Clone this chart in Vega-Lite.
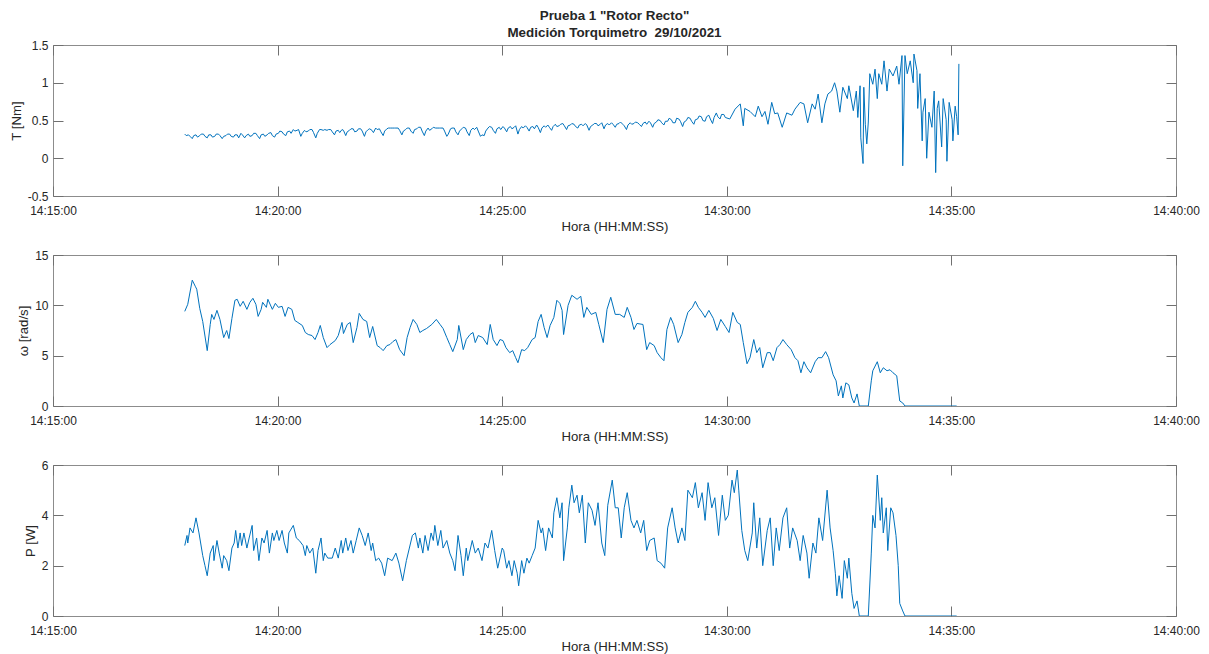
{
"$schema": "https://vega.github.io/schema/vega-lite/v6.json",
"autosize": {"type": "pad"},
"padding": {"left": 8, "top": 9, "right": 5, "bottom": 5},
"title": {"text": ["Prueba 1 \"Rotor Recto\"", "Medición Torquimetro\u00a0 29/10/2021"], "anchor": "middle", "frame": "group", "fontSize": 13.4, "fontWeight": "bold", "font": "Liberation Sans", "color": "#262626", "lineHeight": 17, "offset": -1},
"datasets": {
"T": [
{"s":176,"v":0.32},{"s":178,"v":0.30},{"s":181,"v":0.31},{"s":183,"v":0.29},{"s":186,"v":0.26},{"s":188,"v":0.30},{"s":191,"v":0.31},{"s":193,"v":0.28},{"s":196,"v":0.30},{"s":198,"v":0.32},{"s":201,"v":0.32},{"s":203,"v":0.29},{"s":206,"v":0.27},{"s":208,"v":0.31},{"s":211,"v":0.31},{"s":213,"v":0.28},{"s":216,"v":0.29},{"s":218,"v":0.32},{"s":221,"v":0.32},{"s":223,"v":0.30},{"s":226,"v":0.26},{"s":228,"v":0.29},{"s":231,"v":0.30},{"s":233,"v":0.32},{"s":236,"v":0.32},{"s":238,"v":0.29},{"s":241,"v":0.28},{"s":243,"v":0.31},{"s":246,"v":0.31},{"s":248,"v":0.27},{"s":251,"v":0.33},{"s":253,"v":0.31},{"s":256,"v":0.27},{"s":258,"v":0.30},{"s":261,"v":0.32},{"s":263,"v":0.29},{"s":266,"v":0.30},{"s":268,"v":0.33},{"s":271,"v":0.33},{"s":273,"v":0.30},{"s":276,"v":0.26},{"s":278,"v":0.31},{"s":281,"v":0.32},{"s":283,"v":0.29},{"s":286,"v":0.31},{"s":288,"v":0.33},{"s":291,"v":0.34},{"s":293,"v":0.30},{"s":296,"v":0.28},{"s":298,"v":0.32},
{"s":301,"v":0.33},{"s":303,"v":0.36},{"s":306,"v":0.35},{"s":308,"v":0.32},{"s":311,"v":0.30},{"s":313,"v":0.35},{"s":316,"v":0.36},{"s":318,"v":0.33},{"s":321,"v":0.38},{"s":323,"v":0.36},{"s":326,"v":0.37},{"s":328,"v":0.38},{"s":331,"v":0.29},{"s":333,"v":0.33},{"s":336,"v":0.37},{"s":338,"v":0.35},{"s":341,"v":0.36},{"s":343,"v":0.38},{"s":346,"v":0.38},{"s":348,"v":0.34},{"s":351,"v":0.27},{"s":353,"v":0.33},{"s":356,"v":0.38},{"s":358,"v":0.38},{"s":361,"v":0.37},{"s":363,"v":0.38},{"s":366,"v":0.37},{"s":368,"v":0.38},{"s":371,"v":0.38},{"s":373,"v":0.35},{"s":376,"v":0.31},{"s":378,"v":0.36},{"s":381,"v":0.37},{"s":383,"v":0.34},{"s":386,"v":0.38},{"s":388,"v":0.37},{"s":391,"v":0.30},{"s":393,"v":0.35},{"s":396,"v":0.37},{"s":398,"v":0.39},{"s":401,"v":0.39},{"s":403,"v":0.35},{"s":406,"v":0.36},{"s":408,"v":0.39},{"s":411,"v":0.39},{"s":413,"v":0.36},{"s":416,"v":0.29},{"s":418,"v":0.35},
{"s":421,"v":0.38},{"s":423,"v":0.39},{"s":426,"v":0.37},{"s":428,"v":0.34},{"s":431,"v":0.40},{"s":433,"v":0.38},{"s":436,"v":0.39},{"s":438,"v":0.35},{"s":441,"v":0.30},{"s":443,"v":0.36},{"s":446,"v":0.39},{"s":448,"v":0.40},{"s":451,"v":0.40},{"s":453,"v":0.40},{"s":456,"v":0.40},{"s":458,"v":0.40},{"s":461,"v":0.40},{"s":463,"v":0.37},{"s":466,"v":0.31},{"s":468,"v":0.36},{"s":471,"v":0.38},{"s":473,"v":0.40},{"s":476,"v":0.40},{"s":478,"v":0.36},{"s":481,"v":0.33},{"s":483,"v":0.38},{"s":486,"v":0.39},{"s":488,"v":0.41},{"s":491,"v":0.41},{"s":493,"v":0.36},{"s":496,"v":0.30},{"s":498,"v":0.36},{"s":501,"v":0.40},{"s":503,"v":0.37},{"s":506,"v":0.39},{"s":508,"v":0.41},{"s":511,"v":0.40},{"s":513,"v":0.40},{"s":516,"v":0.40},{"s":518,"v":0.40},{"s":521,"v":0.40},{"s":523,"v":0.36},{"s":526,"v":0.29},{"s":528,"v":0.32},{"s":531,"v":0.39},{"s":533,"v":0.40},{"s":536,"v":0.40},{"s":538,"v":0.35},
{"s":541,"v":0.31},{"s":543,"v":0.36},{"s":546,"v":0.39},{"s":548,"v":0.41},{"s":551,"v":0.40},{"s":553,"v":0.35},{"s":556,"v":0.30},{"s":558,"v":0.37},{"s":561,"v":0.40},{"s":563,"v":0.38},{"s":566,"v":0.41},{"s":568,"v":0.36},{"s":571,"v":0.29},{"s":573,"v":0.31},{"s":576,"v":0.30},{"s":578,"v":0.36},{"s":581,"v":0.40},{"s":583,"v":0.42},{"s":586,"v":0.41},{"s":588,"v":0.37},{"s":591,"v":0.33},{"s":593,"v":0.39},{"s":596,"v":0.41},{"s":598,"v":0.38},{"s":601,"v":0.42},{"s":603,"v":0.40},{"s":606,"v":0.35},{"s":608,"v":0.40},{"s":611,"v":0.42},{"s":613,"v":0.39},{"s":616,"v":0.41},{"s":618,"v":0.43},{"s":621,"v":0.32},{"s":623,"v":0.38},{"s":626,"v":0.42},{"s":628,"v":0.40},{"s":631,"v":0.43},{"s":633,"v":0.41},{"s":636,"v":0.36},{"s":638,"v":0.41},{"s":641,"v":0.42},{"s":643,"v":0.39},{"s":646,"v":0.44},{"s":648,"v":0.41},{"s":651,"v":0.34},{"s":653,"v":0.40},{"s":656,"v":0.43},{"s":658,"v":0.41},
{"s":661,"v":0.44},{"s":663,"v":0.41},{"s":666,"v":0.37},{"s":668,"v":0.42},{"s":671,"v":0.45},{"s":673,"v":0.42},{"s":676,"v":0.43},{"s":678,"v":0.45},{"s":681,"v":0.46},{"s":683,"v":0.43},{"s":686,"v":0.38},{"s":688,"v":0.43},{"s":691,"v":0.44},{"s":693,"v":0.46},{"s":696,"v":0.45},{"s":698,"v":0.42},{"s":701,"v":0.40},{"s":703,"v":0.44},{"s":706,"v":0.45},{"s":708,"v":0.43},{"s":711,"v":0.46},{"s":713,"v":0.44},{"s":716,"v":0.37},{"s":718,"v":0.42},{"s":721,"v":0.44},{"s":723,"v":0.46},{"s":726,"v":0.46},{"s":728,"v":0.43},{"s":731,"v":0.45},{"s":733,"v":0.47},{"s":736,"v":0.39},{"s":738,"v":0.44},{"s":741,"v":0.46},{"s":743,"v":0.44},{"s":746,"v":0.47},{"s":748,"v":0.45},{"s":751,"v":0.41},{"s":753,"v":0.45},{"s":756,"v":0.46},{"s":758,"v":0.48},{"s":761,"v":0.45},{"s":763,"v":0.43},{"s":766,"v":0.38},{"s":768,"v":0.44},{"s":771,"v":0.47},{"s":773,"v":0.45},{"s":776,"v":0.46},{"s":778,"v":0.48},
{"s":781,"v":0.47},{"s":783,"v":0.45},{"s":786,"v":0.42},{"s":788,"v":0.46},{"s":791,"v":0.48},{"s":793,"v":0.45},{"s":796,"v":0.49},{"s":798,"v":0.47},{"s":801,"v":0.41},{"s":803,"v":0.46},{"s":806,"v":0.48},{"s":808,"v":0.51},{"s":811,"v":0.50},{"s":813,"v":0.47},{"s":816,"v":0.44},{"s":818,"v":0.49},{"s":821,"v":0.49},{"s":823,"v":0.53},{"s":826,"v":0.51},{"s":828,"v":0.47},{"s":831,"v":0.47},{"s":833,"v":0.53},{"s":836,"v":0.52},{"s":838,"v":0.49},{"s":841,"v":0.42},{"s":843,"v":0.48},{"s":846,"v":0.50},{"s":848,"v":0.54},{"s":851,"v":0.53},{"s":853,"v":0.49},{"s":856,"v":0.45},{"s":858,"v":0.51},{"s":861,"v":0.52},{"s":863,"v":0.56},{"s":866,"v":0.55},{"s":868,"v":0.50},{"s":871,"v":0.49},{"s":873,"v":0.55},{"s":876,"v":0.57},{"s":878,"v":0.52},{"s":881,"v":0.46},{"s":883,"v":0.54},{"s":886,"v":0.60},{"s":888,"v":0.55},{"s":891,"v":0.52},{"s":893,"v":0.58},{"s":896,"v":0.58},{"s":898,"v":0.54},
{"s":904,"v":0.52},{"s":911,"v":0.65},{"s":918,"v":0.72},{"s":922,"v":0.43},{"s":924,"v":0.66},{"s":931,"v":0.62},{"s":938,"v":0.55},{"s":942,"v":0.69},{"s":947,"v":0.55},{"s":951,"v":0.62},{"s":955,"v":0.45},{"s":960,"v":0.74},{"s":964,"v":0.59},{"s":968,"v":0.60},{"s":974,"v":0.41},{"s":980,"v":0.60},{"s":987,"v":0.57},{"s":991,"v":0.65},{"s":998,"v":0.74},{"s":1003,"v":0.72},{"s":1008,"v":0.47},{"s":1014,"v":0.72},{"s":1018,"v":0.65},{"s":1022,"v":0.85},{"s":1027,"v":0.47},{"s":1031,"v":0.72},{"s":1035,"v":0.85},{"s":1040,"v":0.89},{"s":1044,"v":1.0},{"s":1047,"v":0.89},{"s":1051,"v":0.61},{"s":1055,"v":0.94},{"s":1061,"v":0.79},{"s":1063,"v":0.96},{"s":1069,"v":0.63},{"s":1073,"v":0.89},{"s":1075,"v":0.54},{"s":1078,"v":0.96},{"s":1079,"v":0.27},{"s":1082,"v":-0.07},{"s":1083,"v":0.94},{"s":1085,"v":0.45},{"s":1087,"v":0.19},{"s":1089,"v":0.48},{"s":1091,"v":1.12},{"s":1095,"v":0.98},{"s":1098,"v":1.18},{"s":1101,"v":0.79},{"s":1103,"v":1.12},{"s":1107,"v":0.98},{"s":1110,"v":1.29},{"s":1114,"v":0.89},{"s":1117,"v":1.18},{"s":1122,"v":1.09},{"s":1127,"v":1.22},{"s":1130,"v":0.98},{"s":1134,"v":1.36},{"s":1135,"v":-0.10},{"s":1138,"v":1.36},{"s":1141,"v":1.12},{"s":1145,"v":1.29},{"s":1149,"v":1.0},{"s":1150,"v":1.38},{"s":1154,"v":1.16},{"s":1155,"v":0.66},{"s":1158,"v":1.12},{"s":1161,"v":0.23},{"s":1162,"v":0.61},{"s":1165,"v":0.79},{"s":1167,"v":0.0},{"s":1170,"v":0.61},{"s":1174,"v":0.41},{"s":1177,"v":0.89},{"s":1179,"v":-0.19},{"s":1181,"v":0.66},{"s":1183,"v":0.76},{"s":1187,"v":0.15},{"s":1189,"v":0.79},{"s":1193,"v":0.51},{"s":1194,"v":-0.04},{"s":1197,"v":0.74},{"s":1201,"v":0.51},{"s":1202,"v":0.23},{"s":1205,"v":0.69},{"s":1207,"v":0.55},{"s":1209,"v":0.31},{"s":1210,"v":1.25}
],
"w": [
{"s":176,"v":9.4},{"s":180,"v":10.1},{"s":186,"v":12.5},{"s":190,"v":11.9},{"s":192,"v":11.6},{"s":196,"v":9.7},{"s":200,"v":8.4},{"s":206,"v":5.5},{"s":210,"v":8.1},{"s":212,"v":9.1},{"s":215,"v":8.6},{"s":219,"v":9.5},{"s":223,"v":8.6},{"s":228,"v":6.8},{"s":232,"v":7.5},{"s":235,"v":6.7},{"s":239,"v":8.7},{"s":243,"v":10.5},{"s":246,"v":10.6},{"s":250,"v":9.9},{"s":254,"v":10.4},{"s":259,"v":9.6},{"s":263,"v":10.3},{"s":267,"v":10.7},{"s":271,"v":10.1},{"s":274,"v":8.9},{"s":278,"v":9.6},{"s":280,"v":10.3},{"s":285,"v":9.8},{"s":287,"v":10.6},{"s":293,"v":9.6},{"s":297,"v":10.2},{"s":301,"v":9.8},{"s":306,"v":9.9},{"s":310,"v":8.9},{"s":314,"v":9.8},{"s":319,"v":9.6},{"s":323,"v":8.5},{"s":327,"v":8.3},{"s":333,"v":8.0},{"s":337,"v":7.3},{"s":341,"v":7.1},{"s":346,"v":7.0},{"s":350,"v":6.6},{"s":354,"v":7.3},{"s":357,"v":8.0},{"s":361,"v":6.8},{"s":366,"v":5.8},{"s":370,"v":6.1},{"s":377,"v":6.5},{"s":381,"v":7.0},{"s":386,"v":8.3},{"s":388,"v":7.2},{"s":393,"v":8.1},{"s":397,"v":8.3},{"s":401,"v":6.3},{"s":406,"v":7.8},{"s":409,"v":9.2},{"s":414,"v":8.6},{"s":419,"v":8.4},{"s":423,"v":6.8},{"s":427,"v":7.9},{"s":433,"v":6.0},{"s":437,"v":5.8},{"s":441,"v":5.5},{"s":446,"v":6.0},{"s":450,"v":6.1},{"s":454,"v":6.4},{"s":458,"v":6.6},{"s":463,"v":5.6},{"s":469,"v":5.0},{"s":473,"v":6.8},{"s":477,"v":7.8},{"s":481,"v":8.6},{"s":486,"v":8.1},{"s":490,"v":7.3},{"s":494,"v":7.5},{"s":499,"v":7.7},{"s":506,"v":8.1},{"s":512,"v":8.6},{"s":517,"v":8.1},{"s":521,"v":7.7},{"s":526,"v":6.8},{"s":530,"v":6.1},{"s":534,"v":5.4},{"s":540,"v":6.6},{"s":542,"v":8.0},{"s":548,"v":5.6},{"s":552,"v":6.6},{"s":557,"v":7.1},{"s":561,"v":7.3},{"s":564,"v":6.3},{"s":568,"v":7.0},{"s":574,"v":6.8},{"s":580,"v":6.1},{"s":584,"v":8.1},{"s":588,"v":6.6},{"s":593,"v":6.0},{"s":597,"v":6.6},{"s":601,"v":6.5},{"s":605,"v":5.8},{"s":610,"v":5.3},{"s":614,"v":5.5},{"s":618,"v":4.8},{"s":621,"v":4.3},{"s":626,"v":5.6},{"s":630,"v":5.5},{"s":634,"v":5.8},{"s":640,"v":6.6},{"s":644,"v":6.8},{"s":648,"v":8.4},{"s":652,"v":9.1},{"s":656,"v":7.8},{"s":660,"v":6.8},{"s":664,"v":8.0},{"s":669,"v":8.8},{"s":673,"v":10.5},{"s":677,"v":10.2},{"s":680,"v":9.5},{"s":682,"v":7.1},{"s":688,"v":10.0},{"s":693,"v":11.0},{"s":700,"v":10.6},{"s":705,"v":10.9},{"s":709,"v":8.8},{"s":713,"v":9.8},{"s":719,"v":9.1},{"s":725,"v":9.3},{"s":729,"v":8.1},{"s":735,"v":6.3},{"s":740,"v":9.6},{"s":745,"v":10.8},{"s":751,"v":9.1},{"s":757,"v":9.1},{"s":763,"v":8.8},{"s":767,"v":9.8},{"s":772,"v":8.8},{"s":776,"v":7.6},{"s":780,"v":8.2},{"s":788,"v":8.1},{"s":793,"v":5.6},{"s":797,"v":6.3},{"s":803,"v":6.0},{"s":807,"v":5.3},{"s":812,"v":4.8},{"s":816,"v":4.5},{"s":820,"v":7.6},{"s":825,"v":8.8},{"s":829,"v":8.1},{"s":835,"v":6.3},{"s":840,"v":7.1},{"s":844,"v":8.3},{"s":848,"v":9.3},{"s":854,"v":9.8},{"s":858,"v":10.4},{"s":862,"v":9.8},{"s":867,"v":9.3},{"s":871,"v":8.8},{"s":876,"v":9.5},{"s":882,"v":8.7},{"s":887,"v":7.5},{"s":892,"v":8.6},{"s":898,"v":7.9},{"s":903,"v":7.3},{"s":908,"v":9.3},{"s":914,"v":8.3},{"s":918,"v":8.1},{"s":922,"v":6.3},{"s":927,"v":4.2},{"s":931,"v":4.8},{"s":936,"v":6.6},{"s":940,"v":5.3},{"s":944,"v":5.8},{"s":948,"v":3.8},{"s":954,"v":5.3},{"s":958,"v":5.3},{"s":962,"v":4.5},{"s":967,"v":5.8},{"s":971,"v":6.1},{"s":975,"v":6.6},{"s":980,"v":6.1},{"s":986,"v":5.6},{"s":991,"v":4.8},{"s":995,"v":4.5},{"s":999,"v":3.3},{"s":1003,"v":4.4},{"s":1007,"v":3.8},{"s":1012,"v":3.3},{"s":1018,"v":4.4},{"s":1022,"v":4.8},{"s":1027,"v":4.8},{"s":1032,"v":5.4},{"s":1036,"v":4.8},{"s":1042,"v":3.1},{"s":1046,"v":2.5},{"s":1049,"v":1.0},{"s":1053,"v":2.0},{"s":1055,"v":0.8},{"s":1059,"v":2.3},{"s":1063,"v":2.1},{"s":1067,"v":0.8},{"s":1070,"v":0.3},{"s":1074,"v":1.2},{"s":1077,"v":0},{"s":1089,"v":0},{"s":1093,"v":2.5},{"s":1095,"v":3.5},{"s":1101,"v":4.4},{"s":1105,"v":3.3},{"s":1109,"v":3.8},{"s":1114,"v":3.5},{"s":1118,"v":3.6},{"s":1122,"v":3.3},{"s":1127,"v":3.0},{"s":1131,"v":0.5},{"s":1135,"v":0.3},{"s":1138,"v":0},{"s":1207,"v":0}
],
"P": [
{"s":176,"v":2.8},{"s":179,"v":3.2},{"s":180,"v":2.9},{"s":183,"v":3.5},{"s":187,"v":3.3},{"s":191,"v":3.9},{"s":195,"v":3.3},{"s":200,"v":2.4},{"s":203,"v":2.0},{"s":206,"v":1.6},{"s":210,"v":2.5},{"s":214,"v":2.8},{"s":215,"v":2.2},{"s":219,"v":3.0},{"s":222,"v":2.5},{"s":226,"v":1.9},{"s":228,"v":2.4},{"s":232,"v":2.2},{"s":235,"v":1.8},{"s":239,"v":2.7},{"s":242,"v":2.9},{"s":244,"v":3.4},{"s":247,"v":2.7},{"s":250,"v":3.3},{"s":252,"v":2.8},{"s":255,"v":3.3},{"s":259,"v":2.7},{"s":262,"v":3.1},{"s":266,"v":3.6},{"s":268,"v":2.6},{"s":272,"v":3.1},{"s":275,"v":2.2},{"s":279,"v":3.1},{"s":282,"v":2.9},{"s":286,"v":3.4},{"s":289,"v":2.5},{"s":293,"v":3.3},{"s":295,"v":3.0},{"s":299,"v":3.4},{"s":302,"v":3.0},{"s":306,"v":3.4},{"s":309,"v":2.9},{"s":313,"v":2.5},{"s":315,"v":3.3},{"s":321,"v":3.6},{"s":325,"v":3.1},{"s":329,"v":3.0},{"s":334,"v":2.8},{"s":337,"v":2.4},{"s":339,"v":2.8},{"s":343,"v":2.5},{"s":347,"v":2.7},{"s":351,"v":1.7},{"s":354,"v":2.6},{"s":358,"v":3.1},{"s":361,"v":2.2},{"s":363,"v":2.5},{"s":367,"v":2.3},{"s":373,"v":2.3},{"s":377,"v":2.7},{"s":381,"v":2.3},{"s":385,"v":3.0},{"s":387,"v":2.5},{"s":391,"v":3.1},{"s":394,"v":2.6},{"s":398,"v":3.0},{"s":401,"v":2.5},{"s":405,"v":3.0},{"s":409,"v":3.5},{"s":413,"v":3.2},{"s":417,"v":2.8},{"s":421,"v":3.3},{"s":425,"v":2.6},{"s":427,"v":2.9},{"s":431,"v":2.2},{"s":435,"v":2.3},{"s":439,"v":2.1},{"s":443,"v":1.6},{"s":447,"v":2.3},{"s":453,"v":2.2},{"s":458,"v":2.5},{"s":462,"v":2.1},{"s":467,"v":1.4},{"s":472,"v":2.2},{"s":476,"v":2.7},{"s":480,"v":3.2},{"s":484,"v":3.3},{"s":488,"v":2.7},{"s":490,"v":3.1},{"s":494,"v":2.5},{"s":497,"v":3.2},{"s":501,"v":2.6},{"s":505,"v":3.3},{"s":508,"v":3.0},{"s":510,"v":3.6},{"s":514,"v":2.8},{"s":518,"v":3.4},{"s":521,"v":2.7},{"s":526,"v":3.0},{"s":530,"v":2.5},{"s":534,"v":2.2},{"s":537,"v":1.8},{"s":541,"v":3.2},{"s":545,"v":2.4},{"s":548,"v":1.6},{"s":552,"v":2.7},{"s":554,"v":2.2},{"s":560,"v":3.0},{"s":564,"v":2.5},{"s":568,"v":2.7},{"s":573,"v":2.2},{"s":577,"v":2.9},{"s":581,"v":2.7},{"s":586,"v":3.4},{"s":590,"v":2.6},{"s":594,"v":1.9},{"s":600,"v":2.7},{"s":602,"v":2.6},{"s":606,"v":1.9},{"s":609,"v":2.2},{"s":613,"v":1.6},{"s":616,"v":2.2},{"s":620,"v":1.7},{"s":622,"v":1.2},{"s":626,"v":2.2},{"s":629,"v":1.7},{"s":633,"v":2.3},{"s":636,"v":2.1},{"s":640,"v":2.4},{"s":644,"v":2.7},{"s":648,"v":3.8},{"s":652,"v":3.3},{"s":654,"v":3.5},{"s":658,"v":2.6},{"s":662,"v":3.5},{"s":667,"v":3.1},{"s":669,"v":4.1},{"s":673,"v":4.7},{"s":677,"v":3.9},{"s":680,"v":4.5},{"s":682,"v":2.2},{"s":687,"v":3.5},{"s":689,"v":4.3},{"s":693,"v":5.2},{"s":696,"v":4.5},{"s":700,"v":4.8},{"s":703,"v":4.1},{"s":707,"v":4.8},{"s":711,"v":2.9},{"s":715,"v":4.5},{"s":720,"v":4.2},{"s":724,"v":3.6},{"s":728,"v":4.5},{"s":733,"v":2.9},{"s":737,"v":2.4},{"s":741,"v":4.4},{"s":747,"v":5.4},{"s":751,"v":4.3},{"s":755,"v":4.3},{"s":759,"v":3.1},{"s":763,"v":4.3},{"s":767,"v":4.9},{"s":772,"v":3.8},{"s":776,"v":3.5},{"s":780,"v":3.8},{"s":785,"v":3.3},{"s":789,"v":3.8},{"s":793,"v":2.6},{"s":797,"v":3.0},{"s":803,"v":3.1},{"s":807,"v":2.2},{"s":812,"v":2.1},{"s":817,"v":1.9},{"s":821,"v":3.5},{"s":827,"v":4.3},{"s":831,"v":3.5},{"s":835,"v":2.9},{"s":840,"v":3.5},{"s":844,"v":3.0},{"s":848,"v":5.0},{"s":854,"v":4.7},{"s":858,"v":5.3},{"s":862,"v":4.3},{"s":867,"v":4.9},{"s":871,"v":3.8},{"s":875,"v":5.3},{"s":880,"v":4.3},{"s":884,"v":4.7},{"s":889,"v":3.2},{"s":894,"v":4.8},{"s":898,"v":3.8},{"s":902,"v":4.0},{"s":907,"v":5.4},{"s":910,"v":4.9},{"s":914,"v":5.8},{"s":916,"v":5.0},{"s":920,"v":3.4},{"s":924,"v":2.6},{"s":928,"v":2.2},{"s":934,"v":3.3},{"s":936,"v":4.5},{"s":940,"v":2.7},{"s":944,"v":3.9},{"s":948,"v":2.0},{"s":954,"v":3.4},{"s":958,"v":3.9},{"s":962,"v":2.0},{"s":966,"v":3.5},{"s":970,"v":2.6},{"s":975,"v":3.9},{"s":980,"v":4.3},{"s":984,"v":2.7},{"s":988,"v":3.5},{"s":994,"v":3.0},{"s":998,"v":2.2},{"s":1002,"v":3.2},{"s":1007,"v":2.5},{"s":1010,"v":1.5},{"s":1015,"v":2.9},{"s":1019,"v":2.5},{"s":1023,"v":3.9},{"s":1028,"v":3.0},{"s":1034,"v":5.0},{"s":1038,"v":3.5},{"s":1042,"v":2.6},{"s":1045,"v":1.7},{"s":1047,"v":0.8},{"s":1050,"v":1.6},{"s":1054,"v":0.7},{"s":1057,"v":2.2},{"s":1061,"v":1.5},{"s":1063,"v":2.3},{"s":1067,"v":0.9},{"s":1070,"v":0.3},{"s":1074,"v":0.6},{"s":1077,"v":0},{"s":1089,"v":0},{"s":1093,"v":2.5},{"s":1095,"v":4.0},{"s":1098,"v":3.5},{"s":1101,"v":5.6},{"s":1105,"v":3.8},{"s":1107,"v":4.7},{"s":1109,"v":3.3},{"s":1113,"v":4.3},{"s":1115,"v":2.6},{"s":1119,"v":4.3},{"s":1122,"v":4.1},{"s":1126,"v":3.2},{"s":1129,"v":2.0},{"s":1131,"v":0.5},{"s":1135,"v":0.2},{"s":1138,"v":0},{"s":1207,"v":0}
]
},
"spacing": 59,
"bounds": "flush",
"vconcat": [
{
"width": 1123, "height": 151,
"data": {"name": "T"},
"layer": [
{"mark": {"type": "line", "color": "#0072BD", "strokeWidth": 1, "clip": true},
 "encoding": {
  "x": {"field": "s", "type": "quantitative", "scale": {"domain": [0, 1500], "nice": false, "zero": false}, "axis": {"values": [0, 300, 600, 900, 1200, 1500], "labelExpr": "timeFormat(datetime(2021, 9, 29, 14, 15, datum.value), '%H:%M:%S')", "title": "Hora (HH:MM:SS)"}},
  "y": {"field": "v", "type": "quantitative", "scale": {"domain": [-0.5, 1.5], "nice": false, "zero": false}, "axis": {"values": [-0.5, 0, 0.5, 1, 1.5], "labelExpr": "'' + datum.value", "title": "T [Nm]"}}
 }},
{"mark": {"type": "line", "opacity": 0},
 "encoding": {
  "x": {"field": "s", "type": "quantitative", "scale": {"domain": [0, 1500], "nice": false, "zero": false}, "axis": {"orient": "top", "values": [0, 300, 600, 900, 1200, 1500], "labels": false, "title": null}},
  "y": {"field": "v", "type": "quantitative", "scale": {"domain": [-0.5, 1.5], "nice": false, "zero": false}, "axis": {"orient": "right", "values": [-0.5, 0, 0.5, 1, 1.5], "labels": false, "title": null}}
 }}
],
"resolve": {"axis": {"x": "independent", "y": "independent"}}
},
{
"width": 1123, "height": 151,
"data": {"name": "w"},
"layer": [
{"mark": {"type": "line", "color": "#0072BD", "strokeWidth": 1, "clip": true},
 "encoding": {
  "x": {"field": "s", "type": "quantitative", "scale": {"domain": [0, 1500], "nice": false, "zero": false}, "axis": {"values": [0, 300, 600, 900, 1200, 1500], "labelExpr": "timeFormat(datetime(2021, 9, 29, 14, 15, datum.value), '%H:%M:%S')", "title": "Hora (HH:MM:SS)"}},
  "y": {"field": "v", "type": "quantitative", "scale": {"domain": [0, 15], "nice": false, "zero": false}, "axis": {"values": [0, 5, 10, 15], "labelExpr": "'' + datum.value", "title": "ω [rad/s]"}}
 }},
{"mark": {"type": "line", "opacity": 0},
 "encoding": {
  "x": {"field": "s", "type": "quantitative", "scale": {"domain": [0, 1500], "nice": false, "zero": false}, "axis": {"orient": "top", "values": [0, 300, 600, 900, 1200, 1500], "labels": false, "title": null}},
  "y": {"field": "v", "type": "quantitative", "scale": {"domain": [0, 15], "nice": false, "zero": false}, "axis": {"orient": "right", "values": [0, 5, 10, 15], "labels": false, "title": null}}
 }}
],
"resolve": {"axis": {"x": "independent", "y": "independent"}}
},
{
"width": 1123, "height": 151,
"data": {"name": "P"},
"layer": [
{"mark": {"type": "line", "color": "#0072BD", "strokeWidth": 1, "clip": true},
 "encoding": {
  "x": {"field": "s", "type": "quantitative", "scale": {"domain": [0, 1500], "nice": false, "zero": false}, "axis": {"values": [0, 300, 600, 900, 1200, 1500], "labelExpr": "timeFormat(datetime(2021, 9, 29, 14, 15, datum.value), '%H:%M:%S')", "title": "Hora (HH:MM:SS)"}},
  "y": {"field": "v", "type": "quantitative", "scale": {"domain": [0, 6], "nice": false, "zero": false}, "axis": {"values": [0, 2, 4, 6], "labelExpr": "'' + datum.value", "title": "P [W]"}}
 }},
{"mark": {"type": "line", "opacity": 0},
 "encoding": {
  "x": {"field": "s", "type": "quantitative", "scale": {"domain": [0, 1500], "nice": false, "zero": false}, "axis": {"orient": "top", "values": [0, 300, 600, 900, 1200, 1500], "labels": false, "title": null}},
  "y": {"field": "v", "type": "quantitative", "scale": {"domain": [0, 6], "nice": false, "zero": false}, "axis": {"orient": "right", "values": [0, 2, 4, 6], "labels": false, "title": null}}
 }}
],
"resolve": {"axis": {"x": "independent", "y": "independent"}}
}
],
"config": {
 "font": "Liberation Sans",
 "background": "white",
 "view": {"stroke": "#8c8c8c", "strokeWidth": 1},
 "axis": {"domain": false, "grid": false, "ticks": true, "tickColor": "#707070", "tickSize": -10, "tickWidth": 1, "labelFont": "Liberation Sans", "labelFontSize": 12, "labelColor": "#262626", "titleFont": "Liberation Sans", "titleFontSize": 13.2, "titleFontWeight": "normal", "titleColor": "#262626", "labelFlush": false, "labelOverlap": false},
 "axisX": {"labelPadding": 19, "titlePadding": 4},
 "axisY": {"labelPadding": 15, "titlePadding": 4}
}
}
